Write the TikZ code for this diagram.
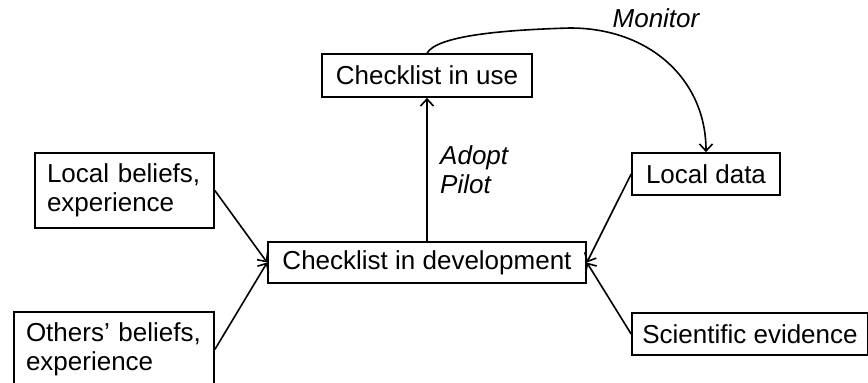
\documentclass[tikz,border=0pt]{standalone}
\usepackage{fontspec}
\setmainfont{Liberation Sans}
\usetikzlibrary{arrows.meta}
\begin{document}
\begin{tikzpicture}[x=1pt,y=-1pt,
  box/.style={draw, line width=1.7pt, inner ysep=0pt, font=\fontsize{26}{29}\selectfont},
  mbox/.style={box, align=left, inner xsep=12pt},
  lbl/.style={font=\fontsize{26}{29}\selectfont\itshape, inner sep=0pt},
  conn/.style={line width=1.6pt, -{Straight Barb[length=7pt,width=13pt,line width=1.6pt]}}]
\useasboundingbox (0,0) rectangle (868,383);
\node[box, minimum width=210pt, minimum height=43pt] (use) at (427,75.5) {Checklist in use};
\node[box, minimum width=318pt, minimum height=41pt] (dev) at (427,262.5) {Checklist in development};
\node[mbox, text width=155pt, minimum height=75pt] (lb) at (124.5,190.5) {Local beliefs,\\experience};
\node[mbox, text width=176pt, minimum height=75pt] (ob) at (114,349.5) {Others' beliefs,\\experience};
\node[box, minimum width=148pt, minimum height=42pt] (ld) at (706,174) {Local data};
\node[box, minimum width=236pt, minimum height=42pt] (se) at (750,334) {Scientific evidence};
\coordinate (top) at (570,28);
\draw[conn] (lb.east) -- (dev.west);
\draw[conn] (ob.east) -- (dev.west);
\draw[conn] (ld.west) -- (dev.east);
\draw[conn] (se.west) -- (dev.east);
\draw[conn] (dev.north) -- (use.south);
\draw[conn] (use.north) .. controls (437,36) and (500,30) .. (top) .. controls (650,28) and (706,80) .. (ld.north);
\node[lbl] (mon) at (656,18) {Monitor};
\node[lbl, anchor=base west] (adopt) at (440,164) {Adopt};
\node[lbl, anchor=base west] (pilot) at (440,193) {Pilot};
\end{tikzpicture}
\end{document}
